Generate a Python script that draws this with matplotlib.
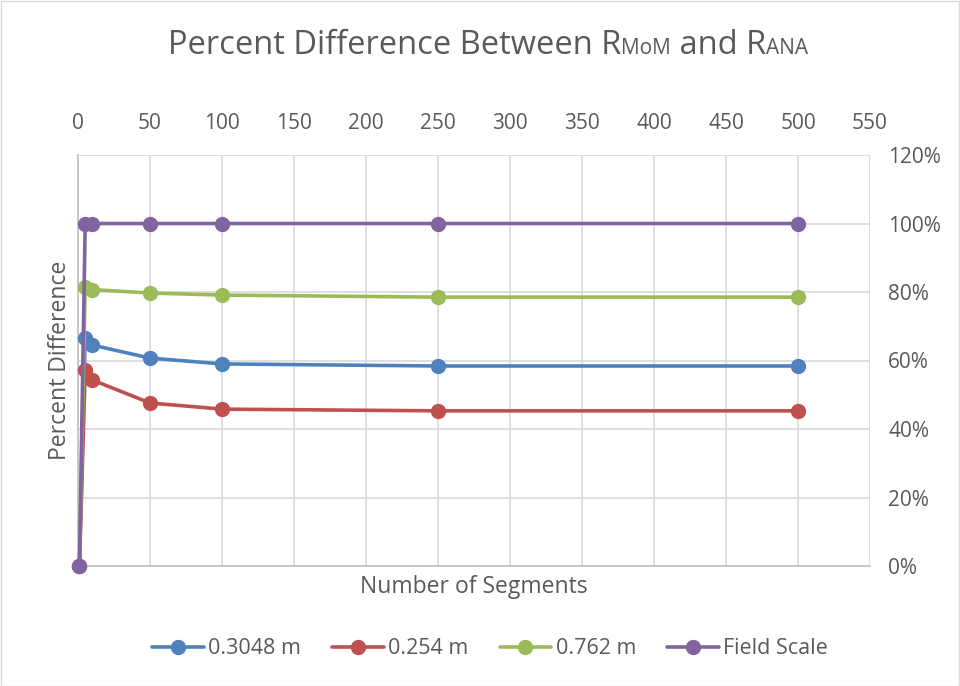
import matplotlib
matplotlib.use("Agg")
import matplotlib.pyplot as plt
from matplotlib.ticker import FuncFormatter, MultipleLocator
from matplotlib.offsetbox import TextArea, HPacker, AnchoredOffsetbox
from matplotlib.patches import Rectangle

plt.rcParams['font.family'] = ['Open Sans', 'DejaVu Sans']

# Number of segments used in each run
segments = [1, 5, 10, 50, 100, 250, 500]

# Percent difference (in %) for each configuration
diff_03048 = [0, 66.6, 64.5, 60.7, 59.0, 58.4, 58.4]
diff_0254 = [0, 57.2, 54.3, 47.6, 45.8, 45.3, 45.3]
diff_0762 = [0, 81.5, 80.7, 79.7, 79.1, 78.5, 78.5]
diff_field = [0, 100, 100, 100, 100, 100, 100]

series_labels = ["0.3048 m", "0.254 m", "0.762 m", "Field Scale"]
series_colors = ["#4F81BD", "#C0504D", "#9BBB59", "#8064A2"]

text_col = '#595959'

fig = plt.figure(figsize=(9.6, 6.86), dpi=100)
ax = fig.add_axes([78 / 960, 1 - 566 / 686, 792 / 960, 411 / 686])

for vals, lab, col in zip([diff_03048, diff_0254, diff_0762, diff_field],
                          series_labels, series_colors):
    ax.plot(segments, vals, color=col, lw=2.6, marker='o', ms=10,
            label=lab, solid_capstyle='round', clip_on=False, zorder=3)

ax.set_xlim(0, 550)
ax.set_ylim(0, 120)
ax.xaxis.set_major_locator(MultipleLocator(50))
ax.yaxis.set_major_locator(MultipleLocator(20))
ax.yaxis.set_major_formatter(FuncFormatter(lambda v, p: f"{v:.0f}%"))

ax.xaxis.tick_top()
ax.yaxis.tick_right()
ax.tick_params(axis='both', length=0, labelsize=15, colors=text_col)
ax.tick_params(axis='x', pad=15)
ax.tick_params(axis='y', pad=13)

ax.grid(True, color='#d9d9d9', lw=1.2)
ax.set_axisbelow(True)
for side in ['top', 'right']:
    ax.spines[side].set_visible(False)
for side in ['left', 'bottom']:
    ax.spines[side].set_color('#bfbfbf')
    ax.spines[side].set_linewidth(1.2)

fig.text(60 / 960, 1 - 360 / 686, "Percent Difference", rotation=90,
         ha='center', va='center', fontsize=16.5, color=text_col)
fig.text(474 / 960, 1 - 587 / 686, "Number of Segments",
         ha='center', va='center', fontsize=16.5, color=text_col)

# Title with small-capital subscripts on the baseline
parts = [("Percent Difference Between R", 23.5), ("MoM", 15),
         (" and R", 23.5), ("ANA", 15)]
areas = [TextArea(t, textprops=dict(fontsize=s, color=text_col)) for t, s in parts]
pack = HPacker(children=areas, align="baseline", pad=0, sep=0)
anch = AnchoredOffsetbox(loc='center', child=pack, frameon=False,
                         bbox_to_anchor=(488 / 960, 1 - 46 / 686),
                         bbox_transform=fig.transFigure, borderpad=0, pad=0)
fig.add_artist(anch)

leg = fig.legend(loc='center', bbox_to_anchor=(490 / 960, 1 - 649 / 686),
                 ncol=4, frameon=False, fontsize=15.5, handlelength=2.4,
                 columnspacing=1.45, handletextpad=0.2, labelcolor=text_col)

fig.add_artist(Rectangle((0.5 / 960, 0.5 / 686), 1 - 1.5 / 960, 1 - 1.5 / 686,
                         transform=fig.transFigure, fill=False,
                         edgecolor='#d9d9d9', lw=1))

fig.savefig("out.png", dpi=100, facecolor='white')
